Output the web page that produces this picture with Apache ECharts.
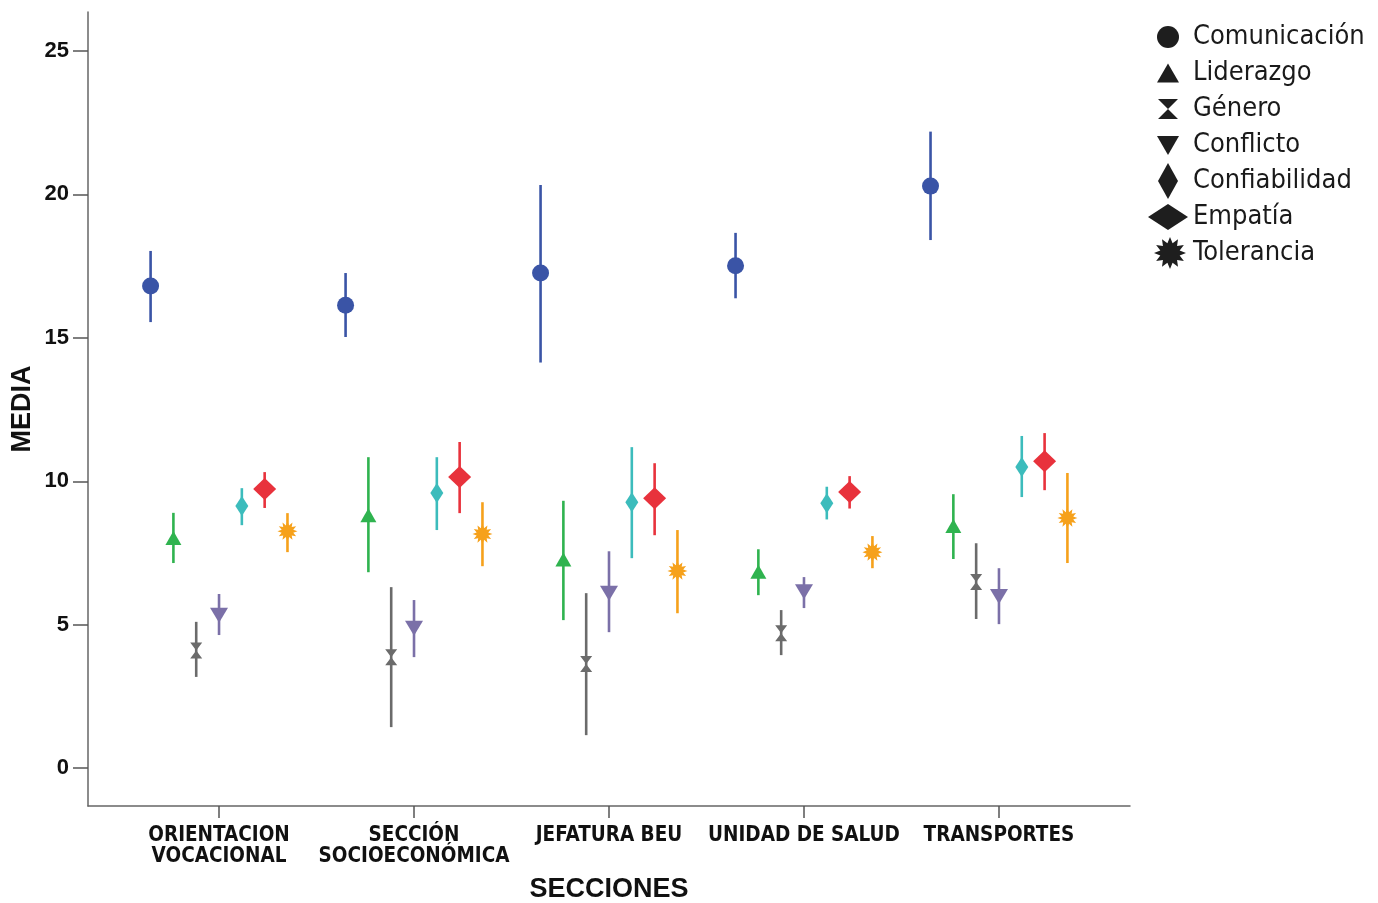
<!DOCTYPE html>
<html>
<head>
<meta charset="utf-8">
<title>Medias por sección</title>
<script src="https://cdn.jsdelivr.net/npm/echarts@6/dist/echarts.min.js"></script>
<style>
  html, body { margin: 0; padding: 0; background: #fff; }
  #chart { width: 1378px; height: 903px; }
</style>
</head>
<body>
<div id="chart"></div>
<script>
const secciones = ['ORIENTACION\nVOCACIONAL', 'SECCIÓN\nSOCIOECONÓMICA', 'JEFATURA BEU', 'UNIDAD DE SALUD', 'TRANSPORTES'];
const dimensiones = ['Comunicación', 'Liderazgo', 'Género', 'Conflicto', 'Confiabilidad', 'Empatía', 'Tolerancia'];
const yTicks = [0, 5, 10, 15, 20, 25];
const xTicks = [1, 2, 3, 4, 5];

// media y limites del intervalo (inferior / superior) por seccion
const comunicacionMedia = [16.81, 16.14, 17.26, 17.51, 20.29];
const comunicacionInf   = [15.55, 15.03, 14.14, 16.38, 18.41];
const comunicacionSup   = [18.03, 17.26, 20.33, 18.66, 22.19];

const liderazgoMedia = [8.02, 8.82, 7.27, 6.85, 8.44];
const liderazgoInf   = [7.15, 6.83, 5.16, 6.03, 7.29];
const liderazgoSup   = [8.90, 10.84, 9.32, 7.63, 9.55];

const generoMedia = [4.10, 3.87, 3.63, 4.70, 6.49];
const generoInf   = [3.18, 1.43, 1.15, 3.94, 5.20];
const generoSup   = [5.10, 6.31, 6.10, 5.51, 7.84];

const conflictoMedia = [5.33, 4.88, 6.10, 6.15, 5.98];
const conflictoInf   = [4.64, 3.87, 4.74, 5.58, 5.02];
const conflictoSup   = [6.07, 5.86, 7.56, 6.66, 6.97];

const confiabilidadMedia = [9.14, 9.59, 9.27, 9.23, 10.50];
const confiabilidadInf   = [8.47, 8.30, 7.32, 8.67, 9.45];
const confiabilidadSup   = [9.76, 10.84, 11.19, 9.81, 11.58];

const empatiaMedia = [9.73, 10.15, 9.41, 9.63, 10.70];
const empatiaInf   = [9.07, 8.89, 8.12, 9.05, 9.69];
const empatiaSup   = [10.32, 11.37, 10.63, 10.18, 11.68];

const toleranciaMedia = [8.26, 8.16, 6.87, 7.53, 8.72];
const toleranciaInf   = [7.53, 7.04, 5.40, 6.97, 7.15];
const toleranciaSup   = [8.89, 9.27, 8.30, 8.09, 10.29];

const medias = [comunicacionMedia, liderazgoMedia, generoMedia, conflictoMedia, confiabilidadMedia, empatiaMedia, toleranciaMedia];
const inferiores = [comunicacionInf, liderazgoInf, generoInf, conflictoInf, confiabilidadInf, empatiaInf, toleranciaInf];
const superiores = [comunicacionSup, liderazgoSup, generoSup, conflictoSup, confiabilidadSup, empatiaSup, toleranciaSup];

const colores = ['#3a54a6', '#2fb34f', '#6b6b6b', '#7b70a8', '#3cbcbc', '#e8323c', '#f6a11b'];
const dodge = 0.117; // separacion horizontal entre dimensiones dentro de cada seccion

function burst(n, cx, cy, ro, ri) {
  let d = '';
  for (let k = 0; k < 2 * n; k++) {
    const r = k % 2 ? ri : ro;
    const a = Math.PI * k / n - Math.PI / 2;
    d += (k ? 'L' : 'M') + (cx + r * Math.cos(a)).toFixed(2) + ' ' + (cy + r * Math.sin(a)).toFixed(2);
  }
  return d + 'Z';
}

// marcadores del grafico
const simbolos = [
  'circle',
  'triangle',
  'path://M0 0L10 0L5 6L10 12L0 12L5 6Z',
  'path://M0 0L10 0L5 9Z',
  'diamond',
  'diamond',
  'path://' + burst(12, 10, 10, 10, 6)
];
const tamanos = [17, [16, 14], [12, 16], [18, 15], [13, 20], [23, 22], [20, 20]];

// iconos de la leyenda (caja 40x36)
const marco = 'path://M0 0M40 36';
const iconos = [
  marco + 'M9 18A11 11 0 1 1 31 18A11 11 0 1 1 9 18Z',
  marco + 'M9 27.5L20 8.5L31 27.5Z',
  marco + 'M10 8L30 8L20 18L30 28L10 28L20 18Z',
  marco + 'M9 9L31 9L20 28Z',
  marco + 'M20 0L30 18L20 36L10 18Z',
  marco + 'M0 18L20 5L40 18L20 31Z',
  marco + burst(12, 22, 18, 16, 10)
];

const series = [];
dimensiones.forEach((nombre, s) => {
  const off = (s - 3) * dodge;
  series.push({
    name: nombre,
    type: 'custom',
    z: 2,
    data: secciones.map((_, i) => [i + 1 + off, inferiores[s][i], superiores[s][i]]),
    encode: { x: 0, y: [1, 2] },
    renderItem: (params, api) => {
      const a = api.coord([api.value(0), api.value(1)]);
      const b = api.coord([api.value(0), api.value(2)]);
      return {
        type: 'line',
        shape: { x1: a[0], y1: a[1], x2: b[0], y2: b[1] },
        style: { stroke: colores[s], lineWidth: 2.6 }
      };
    }
  });
  series.push({
    name: nombre,
    type: 'scatter',
    z: 3,
    symbol: simbolos[s],
    symbolSize: tamanos[s],
    itemStyle: { color: colores[s], opacity: 1 },
    data: secciones.map((_, i) => [i + 1 + off, medias[s][i]])
  });
});

const chart = echarts.init(document.getElementById('chart'));
chart.setOption({
  animation: false,
  backgroundColor: '#fff',
  grid: { left: 88, right: 248, top: 12, bottom: 97, containLabel: false, outerBoundsMode: 'none' },
  legend: {
    orient: 'vertical',
    left: 1148,
    top: 19,
    padding: 0,
    itemGap: 0,
    itemWidth: 40,
    itemHeight: 36,
    selectedMode: false,
    itemStyle: { color: '#1e1e1e', borderWidth: 0 },
    textStyle: { fontFamily: "'DejaVu Sans Condensed', sans-serif", fontSize: 27, color: '#1a1a1a' },
    data: dimensiones.map((n, s) => ({ name: n, icon: iconos[s] }))
  },
  xAxis: {
    type: 'value',
    min: 0.328,
    max: 5.672,
    name: 'SECCIONES',
    nameLocation: 'middle',
    nameGap: 70,
    nameMoveOverlap: false,
    nameTextStyle: { fontFamily: "'Liberation Sans', Arial, sans-serif", fontWeight: 'bold', fontSize: 27, color: '#111' },
    splitLine: { show: false },
    axisLine: { show: true, onZero: false, lineStyle: { color: '#666', width: 1.5 } },
    axisTick: { show: true, customValues: xTicks, length: 12, lineStyle: { color: '#555', width: 1.5 } },
    axisLabel: {
      customValues: xTicks,
      margin: 19,
      formatter: v => secciones[Math.round(v) - 1] || '',
      fontFamily: "'DejaVu Sans Condensed', sans-serif",
      fontWeight: 'bold',
      fontSize: 20.5,
      lineHeight: 21,
      color: '#111'
    }
  },
  yAxis: {
    type: 'value',
    min: -1.32,
    max: 26.36,
    name: 'MEDIA',
    nameLocation: 'middle',
    nameGap: 52,
    nameRotate: 90,
    nameMoveOverlap: false,
    nameTextStyle: { fontFamily: "'Liberation Sans', Arial, sans-serif", fontWeight: 'bold', fontSize: 27, color: '#111' },
    splitLine: { show: false },
    axisLine: { show: true, lineStyle: { color: '#666', width: 1.5 } },
    axisTick: { show: true, customValues: yTicks, length: 15, lineStyle: { color: '#555', width: 1.5 } },
    axisLabel: {
      customValues: yTicks,
      margin: 19,
      fontFamily: "'Liberation Sans', Arial, sans-serif",
      fontWeight: 'bold',
      fontSize: 22,
      color: '#111'
    }
  },
  series: series
});
</script>
</body>
</html>
